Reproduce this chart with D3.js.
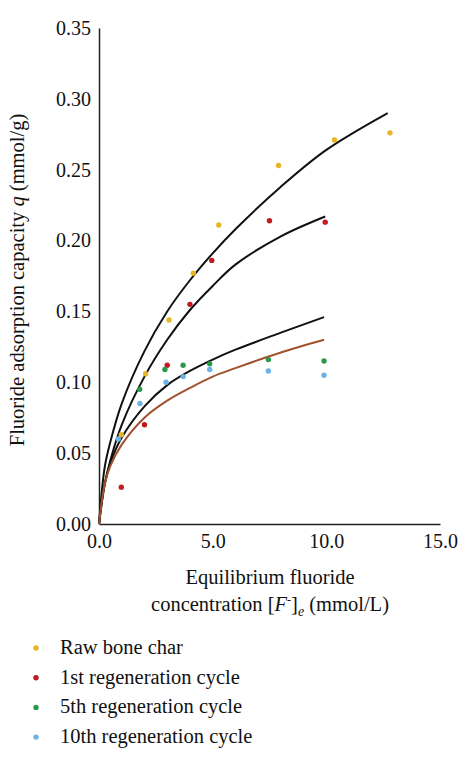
<!DOCTYPE html>
<html>
<head>
<meta charset="utf-8">
<script src="https://cdn.jsdelivr.net/npm/d3@7"></script>
<style>
  body { margin: 0; background: #fff; }
  text { font-family: "Liberation Serif", serif; fill: #111; }
</style>
</head>
<body>
<svg id="chart" width="474" height="767"></svg>
<script>
const xTicks = [0, 5, 10, 15];
const yTicks = [0, 0.05, 0.10, 0.15, 0.20, 0.25, 0.30, 0.35];

const seriesNames = ["Raw bone char", "1st regeneration cycle", "5th regeneration cycle", "10th regeneration cycle"];
const seriesColors = ["#e8b525", "#c21a1e", "#2b9a48", "#6cb2e4"];

const rawX = [0.98, 2.05, 3.08, 4.15, 5.27, 7.9, 10.36, 12.8];
const rawQ = [0.063, 0.106, 0.144, 0.177, 0.211, 0.253, 0.271, 0.276];
const firstX = [0.98, 2.0, 3.0, 4.0, 4.96, 7.5, 9.95];
const firstQ = [0.026, 0.070, 0.112, 0.155, 0.186, 0.214, 0.213];
const fifthX = [1.79, 2.9, 3.7, 4.87, 7.45, 9.9];
const fifthQ = [0.095, 0.109, 0.112, 0.113, 0.116, 0.115];
const tenthX = [0.85, 1.8, 2.95, 3.7, 4.87, 7.45, 9.9];
const tenthQ = [0.060, 0.085, 0.100, 0.104, 0.109, 0.108, 0.105];

// fitted curves
const fitRawX = [0, 0.25, 0.5, 1, 2, 3, 4, 5, 6, 8, 10, 12.7];
const fitRawQ = [0, 0.040, 0.058, 0.085, 0.122, 0.150, 0.172, 0.191, 0.208, 0.238, 0.264, 0.290];
const fitFirstX = [0, 0.25, 0.5, 1, 2, 3, 4, 5, 6, 8, 9.95];
const fitFirstQ = [0, 0.028, 0.045, 0.070, 0.104, 0.130, 0.151, 0.168, 0.183, 0.203, 0.217];
const fitFifthX = [0, 0.25, 0.5, 1, 2, 3, 4, 5, 6, 8, 9.9];
const fitFifthQ = [0, 0.028, 0.043, 0.061, 0.083, 0.098, 0.108, 0.116, 0.123, 0.135, 0.146];
const fitTenthX = [0, 0.25, 0.5, 1, 2, 3, 4, 5, 6, 8, 9.9];
const fitTenthQ = [0, 0.028, 0.041, 0.056, 0.075, 0.087, 0.096, 0.104, 0.110, 0.121, 0.130];

const svg = d3.select("#chart");
const m = { left: 99, right: 440, top: 28, bottom: 524 };

const x = d3.scaleLinear().domain([0, 15]).range([m.left, m.right]);
const y = d3.scaleLinear().domain([0, 0.35]).range([m.bottom, m.top]);

svg.append("g")
    .attr("transform", `translate(0, ${m.bottom})`)
    .call(d3.axisBottom(x).tickValues(xTicks).tickFormat(d3.format(".1f")).tickSize(0).tickPadding(10))
    .call(g => g.select(".domain").attr("stroke", "#222").attr("stroke-width", 1.5))
    .call(g => g.selectAll("text").attr("font-size", 20).attr("font-family", "Liberation Serif"));

svg.append("g")
    .attr("transform", `translate(${m.left}, 0)`)
    .call(d3.axisLeft(y).tickValues(yTicks).tickFormat(d3.format(".2f")).tickSize(0).tickPadding(8))
    .call(g => g.select(".domain").attr("stroke", "#222").attr("stroke-width", 1.5))
    .call(g => g.selectAll("text").attr("font-size", 20).attr("font-family", "Liberation Serif"));

const line = d3.line().x(d => x(d[0])).y(d => y(d[1])).curve(d3.curveCatmullRom);
const fits = [
    [fitRawX, fitRawQ, "#111"],
    [fitFirstX, fitFirstQ, "#111"],
    [fitFifthX, fitFifthQ, "#111"],
    [fitTenthX, fitTenthQ, "#a0522d"],
];
fits.forEach(([xs, qs, c]) => {
    svg.append("path")
        .attr("d", line(d3.zip(xs, qs)))
        .attr("fill", "none")
        .attr("stroke", c)
        .attr("stroke-width", 2);
});

const pts = [[rawX, rawQ], [firstX, firstQ], [fifthX, fifthQ], [tenthX, tenthQ]];
pts.forEach(([xs, qs], i) => {
    svg.append("g").selectAll("circle")
        .data(d3.zip(xs, qs))
        .join("circle")
            .attr("cx", d => x(d[0]))
            .attr("cy", d => y(d[1]))
            .attr("r", 2.7)
            .attr("fill", seriesColors[i]);
});

// axis titles
const yt = svg.append("text")
    .attr("transform", `translate(24, ${(m.top + m.bottom) / 2 + 4}) rotate(-90)`)
    .attr("text-anchor", "middle")
    .attr("font-size", 20.5);
yt.append("tspan").text("Fluoride adsorption capacity ");
yt.append("tspan").attr("font-style", "italic").text("q");
yt.append("tspan").text(" (mmol/g)");

svg.append("text")
    .attr("x", 270).attr("y", 584)
    .attr("text-anchor", "middle")
    .attr("font-size", 20.5)
    .text("Equilibrium fluoride");

const xt = svg.append("text")
    .attr("x", 270).attr("y", 611)
    .attr("text-anchor", "middle")
    .attr("font-size", 20.5);
xt.append("tspan").text("concentration [");
xt.append("tspan").attr("font-style", "italic").text("F");
xt.append("tspan").attr("font-size", 12).attr("dy", -7).text("-");
xt.append("tspan").attr("dy", 7).text("]");
xt.append("tspan").attr("font-style", "italic").attr("font-size", 14).attr("dy", 5).text("e");
xt.append("tspan").attr("dy", -5).text(" (mmol/L)");

// legend
const legend = svg.append("g").selectAll("g")
    .data(seriesNames)
    .join("g")
        .attr("transform", (d, i) => `translate(36, ${648 + i * 29.7})`);
legend.append("circle").attr("r", 2.7).attr("fill", (d, i) => seriesColors[i]);
legend.append("text")
    .attr("x", 24).attr("y", 6)
    .attr("font-size", 20.5)
    .text(d => d);
</script>
</body>
</html>
